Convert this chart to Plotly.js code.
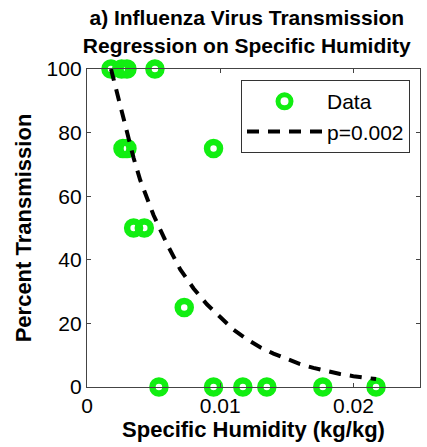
<!DOCTYPE html>
<html>
<head>
<meta charset="utf-8">
<script src="https://cdn.plot.ly/plotly-3.0.1.min.js"></script>
<style>
html,body{margin:0;padding:0;background:#fff;}
#chart{position:relative;z-index:1;width:427px;height:447px;}
#frame{position:absolute;z-index:0;left:86px;top:68px;width:335px;height:320px;box-sizing:border-box;border:1px solid #444;pointer-events:none;}
</style>
</head>
<body>
<div id="frame"></div>
<div id="chart"></div>
<script>
// Observed data: specific humidity (kg/kg) vs percent transmission
const humidity = [0.0018, 0.0026, 0.0030, 0.0051, 0.0027, 0.0030, 0.0095, 0.0035, 0.0043, 0.0073, 0.0054, 0.0095, 0.0117, 0.0135, 0.0177, 0.0217];
const transmission = [100, 100, 100, 100, 75, 75, 75, 50, 50, 25, 0, 0, 0, 0, 0, 0];

// Regression curve
const fitX = [0.0018, 0.0025, 0.0030, 0.0035, 0.0040, 0.0050, 0.0060, 0.0070, 0.0080, 0.0090, 0.0100, 0.0110, 0.0120, 0.0130, 0.0140, 0.0150, 0.0160, 0.0170, 0.0180, 0.0190, 0.0200, 0.0217];
const fitY = [100, 88, 80, 72, 65, 54, 45, 37, 31, 26, 22, 18, 15, 12.5, 10.5, 8.7, 7.2, 6, 5, 4.1, 3.4, 2.5];

const xTicks = [0, 0.01, 0.02];
const xTickText = ['0', '0.01', '0.02'];
const yTicks = [0, 20, 40, 60, 80, 100];

const FONT = 'Liberation Sans, Arial, Helvetica, sans-serif';

const traces = [
  {
    x: humidity, y: transmission, type: 'scatter', mode: 'markers', name: 'Data',
    cliponaxis: false,
    marker: {symbol: 'circle-open', size: 13, color: '#11ee11', line: {width: 6.5, color: '#11ee11'}}
  },
  {
    x: fitX, y: fitY, type: 'scatter', mode: 'lines', name: 'p=0.002',
    cliponaxis: false,
    line: {color: '#000', width: 4, dash: '12px,9px'}
  }
];

const layout = {
  width: 427, height: 447,
  margin: {l: 87, r: 7, t: 69, b: 60},
  paper_bgcolor: 'rgba(0,0,0,0)', plot_bgcolor: 'rgba(0,0,0,0)',
  font: {family: FONT, color: '#000', size: 20},
  showlegend: true,
  title: {
    text: '<b>a) Influenza Virus Transmission<br>Regression on Specific Humidity</b>',
    font: {family: FONT, size: 21, color: '#000'},
    x: 0.578, xanchor: 'center', y: 0.943, yanchor: 'top'
  },
  xaxis: {
    range: [0, 0.025], tickvals: xTicks, ticktext: xTickText,
    showgrid: false, zeroline: false,
    showline: true, linecolor: '#444', linewidth: 1.2, mirror: 'ticks',
    ticks: 'inside', ticklen: 4, tickwidth: 1, tickcolor: '#444',
    tickfont: {family: FONT, size: 21, color: '#000'},
    title: {text: '<b>Specific Humidity (kg/kg)</b>', font: {family: FONT, size: 22, color: '#000'}, standoff: 4}
  },
  yaxis: {
    range: [0, 100], tickvals: yTicks,
    showgrid: false, zeroline: false,
    showline: true, linecolor: '#444', linewidth: 1.2, mirror: 'ticks',
    ticks: 'inside', ticklen: 4, tickwidth: 1, tickcolor: '#444',
    tickfont: {family: FONT, size: 21, color: '#000'},
    title: {text: '<b>Percent Transmission</b>', font: {family: FONT, size: 22, color: '#000'}, standoff: 8}
  },
  legend: {
    x: 0.97, xanchor: 'right', y: 0.965, yanchor: 'top',
    bgcolor: '#fff', bordercolor: '#333', borderwidth: 1,
    font: {family: FONT, size: 21, color: '#000'},
    itemwidth: 75, tracegroupgap: 0
  }
};

Plotly.newPlot('chart', traces, layout, {displayModeBar: false, staticPlot: true});
</script>
</body>
</html>
